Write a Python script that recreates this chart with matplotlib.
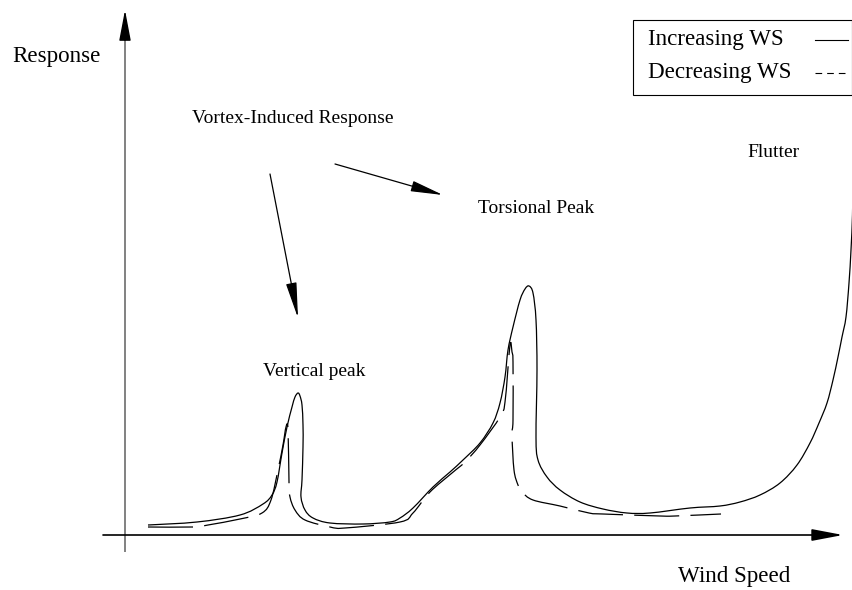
import matplotlib
matplotlib.use("Agg")
import numpy as np
import matplotlib.pyplot as plt
from matplotlib.patches import Rectangle, PathPatch
from matplotlib.path import Path
from matplotlib.lines import Line2D

# ---- data (wind speed, response) in arbitrary schematic units ----
inc_ws = [23, 72, 115, 138, 147, 152, 157, 162, 167, 170, 173, 175, 177, 178, 178, 177, 176,
          180, 188, 205, 238, 265, 275, 288, 308, 325, 338, 355, 368, 375, 380, 383, 388, 395,
          400, 404, 408, 411, 412, 411, 413, 422, 435, 455, 478, 502, 525, 565, 595, 615, 635,
          655, 672, 685, 694, 702, 708, 713, 717, 721, 724, 726, 727.5, 728]
inc_resp = [10, 13, 20, 31, 40, 53, 82, 108, 128, 138, 142, 139, 130, 110, 88, 55, 38,
            25, 17, 12, 11, 13, 17, 27, 48, 63, 75, 92, 112, 132, 158, 185, 208, 235,
            246, 249, 242, 215, 165, 98, 75, 58, 45, 33, 26, 22, 22, 27, 29, 33, 40,
            52, 70, 92, 112, 132, 155, 178, 198, 218, 252, 285, 320, 355]

dec_ws = [23, 68, 83, 115, 137, 146, 153, 158, 161, 163, 164, 165, 170, 180, 205, 220, 275,
          288, 305, 327, 340, 355, 375, 380, 385, 387, 388, 388, 387, 389, 393, 397, 408,
          435, 464, 478, 535, 550, 596]
dec_resp = [8, 8, 10, 16, 22, 35, 65, 90, 108, 106, 53, 38, 25, 15, 8, 7, 13,
            22, 43, 62, 73, 90, 118, 133, 190, 183, 173, 115, 100, 65, 50, 43, 35,
            29, 22, 21, 19, 19, 21]

labels = {
    "Vortex-Induced Response": (67, 412),
    "Torsional Peak": (353, 322),
    "Vertical peak": (138, 159),
    "Flutter": (622, 378),
}
axis_labels = {
    "Response": (-113, 473),
    "Wind Speed": (553, -47),
}
legend_labels = ["Increasing WS", "Decreasing WS"]

FONT = "Liberation Serif"
FS = 14
FS_BIG = 16.6


def smooth_path(xs, ys):
    pts = np.column_stack([xs, ys]).astype(float)
    verts = [pts[0]]
    codes = [Path.MOVETO]
    n = len(pts)
    for i in range(n - 1):
        p0 = pts[i - 1] if i > 0 else pts[i]
        p1 = pts[i]
        p2 = pts[i + 1]
        p3 = pts[i + 2] if i + 2 < n else pts[i + 1]
        c1 = p1 + (p2 - p0) / 6.0
        c2 = p2 - (p3 - p1) / 6.0
        verts += [c1, c2, p2]
        codes += [Path.CURVE4] * 3
    return Path(verts, codes)


fig = plt.figure(figsize=(8.53, 5.90), dpi=100)
ax = fig.add_axes([0, 0, 1, 1])
ax.set_xlim(-125, 728)
ax.set_ylim(-55, 535)
ax.axis("off")

# axes lines with arrows
ax.plot([0, 0], [-17, 500], color="#777777", lw=1.3, solid_capstyle="butt")
ax.annotate("", xy=(0, 525), xytext=(0, 495),
            arrowprops=dict(arrowstyle="-|>,head_length=1.9,head_width=0.36",
                            mutation_scale=10, color="black", lw=1.0,
                            shrinkA=0, shrinkB=0))
ax.annotate("", xy=(718, 0), xytext=(-22, 0),
            arrowprops=dict(arrowstyle="-|>,head_length=1.9,head_width=0.36",
                            mutation_scale=10, color="black", lw=1.2,
                            shrinkA=0, shrinkB=0))

# curves
ax.add_patch(PathPatch(smooth_path(inc_ws, inc_resp), fill=False,
                       edgecolor="black", lw=0.9, joinstyle="round"))
ax.add_patch(PathPatch(smooth_path(dec_ws, dec_resp), fill=False,
                       edgecolor="black", lw=0.9, linestyle=(0, (36, 9))))

# texts
for t, (x, y) in labels.items():
    ax.text(x, y, t, family=FONT, fontsize=FS, ha="left", va="baseline")
for t, (x, y) in axis_labels.items():
    ax.text(x, y, t, family=FONT, fontsize=FS_BIG, ha="left", va="baseline")

# annotation arrows
ax.annotate("", xy=(173, 217), xytext=(145, 361),
            arrowprops=dict(arrowstyle="-|>,head_length=2.2,head_width=0.33",
                            mutation_scale=10, color="black", lw=0.9,
                            shrinkA=0, shrinkB=0))
ax.annotate("", xy=(318, 340), xytext=(210, 371),
            arrowprops=dict(arrowstyle="-|>,head_length=2.0,head_width=0.33",
                            mutation_scale=10, color="black", lw=0.9,
                            shrinkA=0, shrinkB=0))

# legend box (manual)
ax.add_patch(Rectangle((508, 440), 219, 75, fill=False, edgecolor="black", lw=0.8))
ax.text(523, 490, legend_labels[0], family=FONT, fontsize=FS_BIG, ha="left", va="baseline")
ax.text(523, 457, legend_labels[1], family=FONT, fontsize=FS_BIG, ha="left", va="baseline")
ax.add_line(Line2D([690, 723], [495, 495], color="black", lw=0.8))
ax.add_line(Line2D([690, 723], [462, 462], color="black", lw=0.8, dashes=(6, 4.5)))

fig.savefig("out.png", dpi=100)
